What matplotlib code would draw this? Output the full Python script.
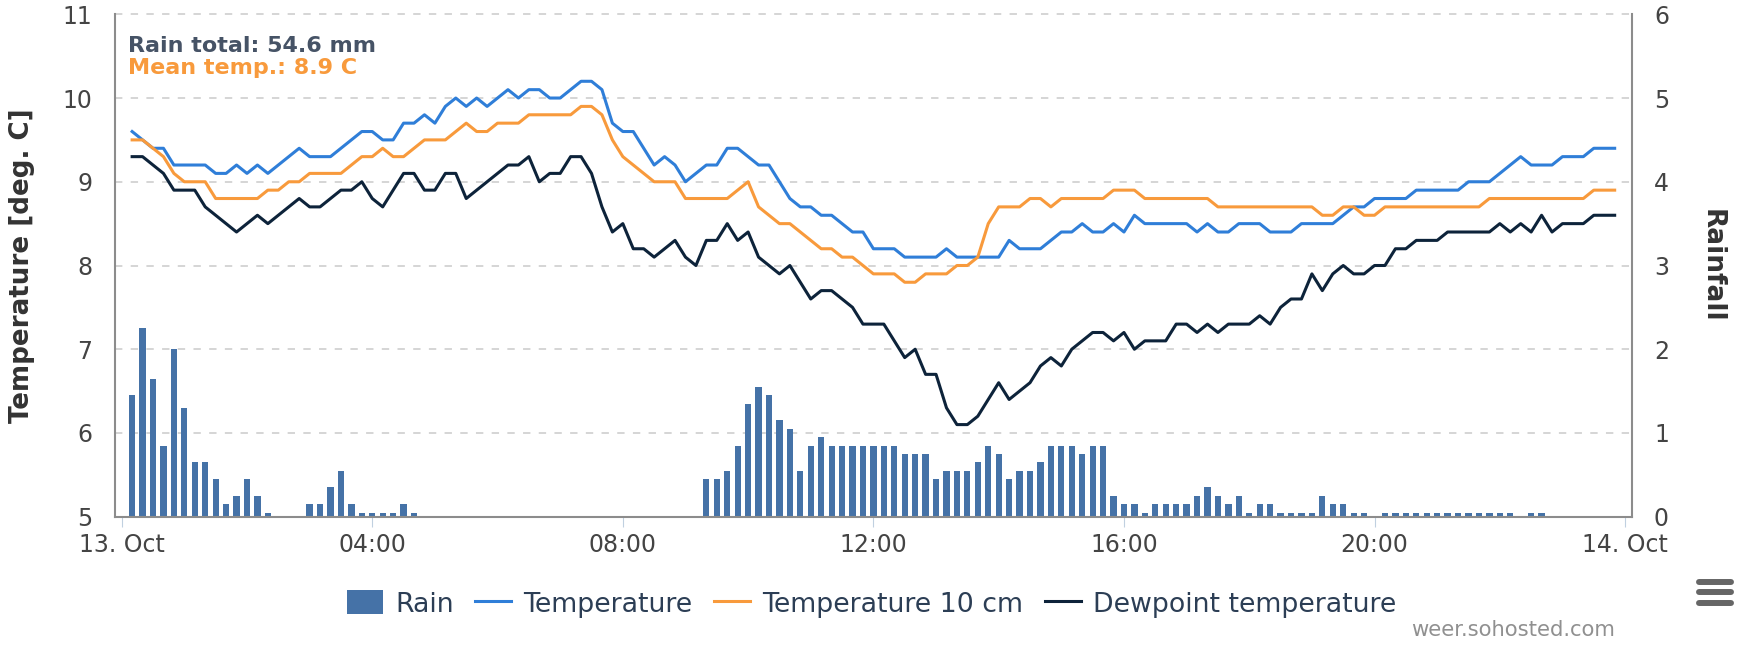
import numpy as np
import matplotlib
matplotlib.use("Agg")
import matplotlib.pyplot as plt
from matplotlib.lines import Line2D

plt.rcParams["font.family"] = ["DejaVu Sans"]
plt.rcParams["lines.scale_dashes"] = False

W, H = 1749, 648

# 10-minute readings, 13 Oct 00:10 .. 23:50 (hours after midnight)
minutes = np.arange(10, 1440, 10)
hours = minutes / 60.0

tick_hours = [0, 4, 8, 12, 16, 20, 24]
tick_labels = ["13. Oct", "04:00", "08:00", "12:00", "16:00", "20:00", "14. Oct"]

rain = [
    1.45, 2.25, 1.65, 0.85, 2.0, 1.3, 0.65, 0.65, 0.45, 0.15,
    0.25, 0.45, 0.25, 0.05, 0, 0, 0, 0.15, 0.15, 0.35,
    0.55, 0.15, 0.05, 0.05, 0.05, 0.05, 0.15, 0.05, 0, 0,
    0, 0, 0, 0, 0, 0, 0, 0, 0, 0,
    0, 0, 0, 0, 0, 0, 0, 0, 0, 0,
    0, 0, 0, 0, 0, 0.45, 0.45, 0.55, 0.85, 1.35,
    1.55, 1.45, 1.15, 1.05, 0.55, 0.85, 0.95, 0.85, 0.85, 0.85,
    0.85, 0.85, 0.85, 0.85, 0.75, 0.75, 0.75, 0.45, 0.55, 0.55,
    0.55, 0.65, 0.85, 0.75, 0.45, 0.55, 0.55, 0.65, 0.85, 0.85,
    0.85, 0.75, 0.85, 0.85, 0.25, 0.15, 0.15, 0.05, 0.15, 0.15,
    0.15, 0.15, 0.25, 0.35, 0.25, 0.15, 0.25, 0.05, 0.15, 0.15,
    0.05, 0.05, 0.05, 0.05, 0.25, 0.15, 0.15, 0.05, 0.05, 0,
    0.05, 0.05, 0.05, 0.05, 0.05, 0.05, 0.05, 0.05, 0.05, 0.05,
    0.05, 0.05, 0.05, 0, 0.05, 0.05, 0, 0, 0, 0,
    0, 0, 0,
]

temperature = [
    9.6, 9.5, 9.4, 9.4, 9.2, 9.2, 9.2, 9.2, 9.1, 9.1,
    9.2, 9.1, 9.2, 9.1, 9.2, 9.3, 9.4, 9.3, 9.3, 9.3,
    9.4, 9.5, 9.6, 9.6, 9.5, 9.5, 9.7, 9.7, 9.8, 9.7,
    9.9, 10.0, 9.9, 10.0, 9.9, 10.0, 10.1, 10.0, 10.1, 10.1,
    10.0, 10.0, 10.1, 10.2, 10.2, 10.1, 9.7, 9.6, 9.6, 9.4,
    9.2, 9.3, 9.2, 9.0, 9.1, 9.2, 9.2, 9.4, 9.4, 9.3,
    9.2, 9.2, 9.0, 8.8, 8.7, 8.7, 8.6, 8.6, 8.5, 8.4,
    8.4, 8.2, 8.2, 8.2, 8.1, 8.1, 8.1, 8.1, 8.2, 8.1,
    8.1, 8.1, 8.1, 8.1, 8.3, 8.2, 8.2, 8.2, 8.3, 8.4,
    8.4, 8.5, 8.4, 8.4, 8.5, 8.4, 8.6, 8.5, 8.5, 8.5,
    8.5, 8.5, 8.4, 8.5, 8.4, 8.4, 8.5, 8.5, 8.5, 8.4,
    8.4, 8.4, 8.5, 8.5, 8.5, 8.5, 8.6, 8.7, 8.7, 8.8,
    8.8, 8.8, 8.8, 8.9, 8.9, 8.9, 8.9, 8.9, 9.0, 9.0,
    9.0, 9.1, 9.2, 9.3, 9.2, 9.2, 9.2, 9.3, 9.3, 9.3,
    9.4, 9.4, 9.4,
]

temp_10cm = [
    9.5, 9.5, 9.4, 9.3, 9.1, 9.0, 9.0, 9.0, 8.8, 8.8,
    8.8, 8.8, 8.8, 8.9, 8.9, 9.0, 9.0, 9.1, 9.1, 9.1,
    9.1, 9.2, 9.3, 9.3, 9.4, 9.3, 9.3, 9.4, 9.5, 9.5,
    9.5, 9.6, 9.7, 9.6, 9.6, 9.7, 9.7, 9.7, 9.8, 9.8,
    9.8, 9.8, 9.8, 9.9, 9.9, 9.8, 9.5, 9.3, 9.2, 9.1,
    9.0, 9.0, 9.0, 8.8, 8.8, 8.8, 8.8, 8.8, 8.9, 9.0,
    8.7, 8.6, 8.5, 8.5, 8.4, 8.3, 8.2, 8.2, 8.1, 8.1,
    8.0, 7.9, 7.9, 7.9, 7.8, 7.8, 7.9, 7.9, 7.9, 8.0,
    8.0, 8.1, 8.5, 8.7, 8.7, 8.7, 8.8, 8.8, 8.7, 8.8,
    8.8, 8.8, 8.8, 8.8, 8.9, 8.9, 8.9, 8.8, 8.8, 8.8,
    8.8, 8.8, 8.8, 8.8, 8.7, 8.7, 8.7, 8.7, 8.7, 8.7,
    8.7, 8.7, 8.7, 8.7, 8.6, 8.6, 8.7, 8.7, 8.6, 8.6,
    8.7, 8.7, 8.7, 8.7, 8.7, 8.7, 8.7, 8.7, 8.7, 8.7,
    8.8, 8.8, 8.8, 8.8, 8.8, 8.8, 8.8, 8.8, 8.8, 8.8,
    8.9, 8.9, 8.9,
]

dewpoint = [
    9.3, 9.3, 9.2, 9.1, 8.9, 8.9, 8.9, 8.7, 8.6, 8.5,
    8.4, 8.5, 8.6, 8.5, 8.6, 8.7, 8.8, 8.7, 8.7, 8.8,
    8.9, 8.9, 9.0, 8.8, 8.7, 8.9, 9.1, 9.1, 8.9, 8.9,
    9.1, 9.1, 8.8, 8.9, 9.0, 9.1, 9.2, 9.2, 9.3, 9.0,
    9.1, 9.1, 9.3, 9.3, 9.1, 8.7, 8.4, 8.5, 8.2, 8.2,
    8.1, 8.2, 8.3, 8.1, 8.0, 8.3, 8.3, 8.5, 8.3, 8.4,
    8.1, 8.0, 7.9, 8.0, 7.8, 7.6, 7.7, 7.7, 7.6, 7.5,
    7.3, 7.3, 7.3, 7.1, 6.9, 7.0, 6.7, 6.7, 6.3, 6.1,
    6.1, 6.2, 6.4, 6.6, 6.4, 6.5, 6.6, 6.8, 6.9, 6.8,
    7.0, 7.1, 7.2, 7.2, 7.1, 7.2, 7.0, 7.1, 7.1, 7.1,
    7.3, 7.3, 7.2, 7.3, 7.2, 7.3, 7.3, 7.3, 7.4, 7.3,
    7.5, 7.6, 7.6, 7.9, 7.7, 7.9, 8.0, 7.9, 7.9, 8.0,
    8.0, 8.2, 8.2, 8.3, 8.3, 8.3, 8.4, 8.4, 8.4, 8.4,
    8.4, 8.5, 8.4, 8.5, 8.4, 8.6, 8.4, 8.5, 8.5, 8.5,
    8.6, 8.6, 8.6,
]

RAIN_C = "#4572a7"
TEMP_C = "#2f7ed8"
SOIL_C = "#f89a3c"
DEW_C = "#0d233a"
TEXT_C = "#444444"
LEGEND_C = "#2c3e55"


def fx(px):
    return px / W


def fy(py):
    return 1 - py / H


fig = plt.figure(figsize=(W / 100, H / 100), dpi=100)
fig.patch.set_facecolor("white")

ax = fig.add_axes([fx(114.8), fy(516.7), (1632 - 114.8) / W, (516.7 - 14.3) / H])
ax2 = ax.twinx()
ax.set_zorder(ax2.get_zorder() + 1)
ax.patch.set_visible(False)

# rain bars on the right axis, grid behind them
bars = ax2.bar(hours, rain, width=0.1, color=RAIN_C, linewidth=0, zorder=2)
ax2.set_ylim(0, 6)
ax2.set_yticks(range(7))
ax2.set_axisbelow(True)
ax2.grid(axis="y", color="#d2d2d2", linestyle=(0, (5.3, 6.0)), linewidth=1.3)
for gl in ax2.get_ygridlines():
    gl.set_clip_on(False)

l1, = ax.plot(hours, temperature, color=TEMP_C, lw=2.2, solid_joinstyle="round")
l2, = ax.plot(hours, temp_10cm, color=SOIL_C, lw=2.2, solid_joinstyle="round")
l3, = ax.plot(hours, dewpoint, color=DEW_C, lw=2.2, solid_joinstyle="round")

ax.set_xlim(-0.11, 24.11)
ax.set_ylim(5, 11)
ax.set_yticks(range(5, 12))
ax.set_xticks(tick_hours)
ax.set_xticklabels(tick_labels)

ax.tick_params(axis="x", direction="out", length=7, width=0.8, color="#c0d0e0",
               pad=4.8, labelsize=17, labelcolor=TEXT_C)
ax.tick_params(axis="y", length=0, pad=16.4, labelsize=17, labelcolor=TEXT_C)
ax2.tick_params(axis="y", length=0, pad=15.8, labelsize=17, labelcolor=TEXT_C)

for s in ["top", "right"]:
    ax.spines[s].set_visible(False)
for s in ["top", "left", "bottom"]:
    ax2.spines[s].set_visible(False)
ax.spines["left"].set_color("#8c8c8c")
ax.spines["left"].set_linewidth(1.5)
ax.spines["bottom"].set_color("#8c8c8c")
ax.spines["bottom"].set_linewidth(1.5)
ax2.spines["right"].set_color("#8c8c8c")
ax2.spines["right"].set_linewidth(1.5)

ax.set_ylabel("Temperature [deg. C]", fontsize=18.8, fontweight="bold",
              color="#333333", va="center")
ax.yaxis.set_label_coords((22 - 114.8) / (1632 - 114.8), 0.5)
ax2.set_ylabel("Rainfall", fontsize=19, fontweight="bold", color="#333333",
               rotation=270, va="center")
ax2.yaxis.set_label_coords((1712 - 114.8) / (1632 - 114.8), 0.5)

fig.text(fx(128), fy(46), "Rain total: 54.6 mm", fontsize=16, fontweight="bold",
         color="#465366", ha="left", va="center")
fig.text(fx(128), fy(68), "Mean temp.: 8.9 C", fontsize=16, fontweight="bold",
         color=SOIL_C, ha="left", va="center")

fig.legend([bars, l1, l2, l3],
           ["Rain", "Temperature", "Temperature 10 cm", "Dewpoint temperature"],
           loc="center", bbox_to_anchor=(fx(871.5), fy(604)), ncol=4, frameon=False,
           fontsize=19.3, handlelength=1.35, handleheight=1.0, handletextpad=0.45,
           columnspacing=0.8, labelcolor=LEGEND_C, borderaxespad=0, borderpad=0)

fig.text(fx(1614.6), fy(630), "weer.sohosted.com", fontsize=15.2, color="#909090",
         ha="right", va="center")

# export menu icon
for py in (581.7, 591.7, 602.7):
    fig.add_artist(Line2D([fx(1699), fx(1731)], [fy(py), fy(py)], color="#666666",
                          lw=4.3, solid_capstyle="round"))

fig.savefig("out.png", dpi=100)
